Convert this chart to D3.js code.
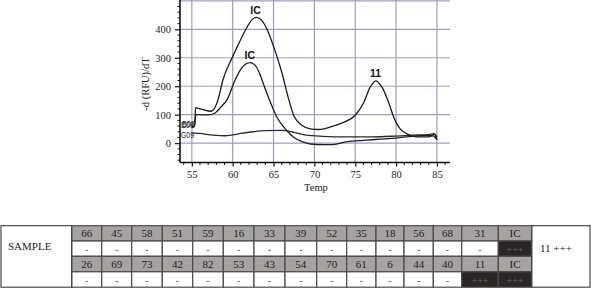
<!DOCTYPE html>
<html>
<head>
<meta charset="utf-8">
<script src="https://cdn.jsdelivr.net/npm/d3@7"></script>
<style>
  body { margin: 0; background: #fff; }
  svg { display: block; }
</style>
</head>
<body>
<svg id="visualisation" width="591" height="288"></svg>
<script>
// melt curves, temp (C) vs -d(RFU)/dT
var tempA = [55.0, 55.35, 55.45, 55.8, 56.5, 57.2, 57.6, 58.2, 58.8, 60.0, 61.0, 61.8, 62.4, 62.9, 63.5, 64.2, 65.0, 66.0, 66.8, 67.5, 68.5, 69.5, 70.5, 71.5, 72.5, 73.5, 75.0, 76.0, 76.8, 77.5, 78.2, 79.0, 79.8, 80.5, 81.2, 82.0, 83.0, 84.0, 84.5, 84.7, 85.0];
var valsA = [60, 62, 125, 122, 117, 112, 116, 152, 222, 304, 365, 410, 435, 442, 433, 400, 340, 250, 160, 95, 62, 50, 48, 53, 62, 72, 98, 140, 195, 219, 200, 150, 85, 50, 35, 25, 22, 22, 28, 32, 12];

var tempB = [55.0, 55.3, 55.5, 56.0, 57.0, 57.8, 58.5, 59.3, 60.3, 61.0, 61.6, 62.1, 62.7, 63.3, 63.8, 64.5, 65.4, 66.5, 67.5, 68.5, 69.5, 71.0, 72.0, 74.0, 76.0, 78.0, 80.0, 82.0, 84.0, 84.6, 85.0];
var valsB = [55, 58, 100, 100, 99, 105, 125, 152, 222, 260, 278, 283, 275, 245, 205, 152, 92, 48, 20, 5, -3, -5, -5, 5, 10, 14, 18, 24, 27, 25, 12];

var tempG = [55.0, 55.3, 56.0, 57.0, 58.0, 59.0, 60.0, 61.0, 62.5, 64.0, 66.0, 67.5, 69.0, 71.0, 74.0, 77.0, 80.0, 82.0, 84.0, 84.6, 85.0];
var valsG = [36, 35, 34, 30, 27, 26, 29, 34, 40, 44, 45, 38, 28, 24, 22, 22, 25, 28, 30, 33, 22];

var xTicks = [55, 60, 65, 70, 75, 80, 85];
var yTicks = [0, 100, 200, 300, 400];
var peakLabels = [{t: 62.8, v: 442, s: 'IC'}, {t: 62.1, v: 283, s: 'IC'}, {t: 77.5, v: 219, s: '11'}];
var wellLabels = [{v: 66, s: 'E08'}, {v: 68, s: 'B08'}, {v: 29, s: 'G09'}];

// table
var sampleRow1 = ['66', '45', '58', '51', '59', '16', '33', '39', '52', '35', '18', '56', '68', '31', 'IC'];
var resultRow1 = ['-', '-', '-', '-', '-', '-', '-', '-', '-', '-', '-', '-', '-', '-', '+++'];
var sampleRow2 = ['26', '69', '73', '42', '82', '53', '43', '54', '70', '61', '6', '44', '40', '11', 'IC'];
var resultRow2 = ['-', '-', '-', '-', '-', '-', '-', '-', '-', '-', '-', '-', '-', '+++', '+++'];
var tableTitle = 'SAMPLE';
var tableResult = '11 +++';

var vis = d3.select('#visualisation');
vis.append('rect').attr('width', 591).attr('height', 288).attr('fill', '#fff');

var MARGINS = {left: 180, right: 450, top: 0, bottom: 162.5};
var xRange = d3.scaleLinear().domain([53.55, 86.6]).range([MARGINS.left, MARGINS.right]);
var yRange = d3.scaleLinear().domain([-68, 503]).range([MARGINS.bottom, MARGINS.top]);

var serif = '"Liberation Serif", "Times New Roman", serif';
var sans = '"Liberation Sans", Arial, sans-serif';

// grid
var grid = vis.append('g').attr('stroke', '#9c9cc9').attr('stroke-width', 1.2);
d3.range(55, 86, 5).forEach(function(t){
    grid.append('line').attr('x1', xRange(t)).attr('x2', xRange(t))
        .attr('y1', yRange(503)).attr('y2', MARGINS.bottom);
});
d3.range(0, 501, 100).forEach(function(v){
    grid.append('line').attr('x1', MARGINS.left).attr('x2', MARGINS.right)
        .attr('y1', yRange(v)).attr('y2', yRange(v));
});

// axes
var xAxis = d3.axisBottom(xRange).tickValues(xTicks).tickSize(4).tickPadding(4).tickFormat(d3.format('d'));
var yAxis = d3.axisLeft(yRange).tickValues(yTicks).tickSize(5).tickPadding(4).tickFormat(d3.format('d'));

var gx = vis.append('g').attr('transform', 'translate(0,' + MARGINS.bottom + ')').call(xAxis);
var gy = vis.append('g').attr('transform', 'translate(' + MARGINS.left + ',0)').call(yAxis);
[gx, gy].forEach(function(g){
    g.select('.domain').attr('stroke', '#111').attr('stroke-width', 1.6);
    g.selectAll('.tick line').attr('stroke', '#111').attr('stroke-width', 1.2);
    g.selectAll('.tick text').attr('font-family', serif).attr('font-size', 10.5).attr('fill', '#222');
});
gx.select('.domain').attr('d', 'M' + MARGINS.left + ',0H' + MARGINS.right);
gy.select('.domain').attr('d', 'M0,' + MARGINS.bottom + 'V0');

// minor ticks
d3.range(54, 87, 1).forEach(function(t){
    if (t % 5 === 0) return;
    vis.append('line').attr('x1', xRange(t)).attr('x2', xRange(t))
        .attr('y1', MARGINS.bottom).attr('y2', MARGINS.bottom + 2.5)
        .attr('stroke', '#111').attr('stroke-width', 1);
});
d3.range(-60, 501, 20).forEach(function(v){
    if (v % 100 === 0) return;
    vis.append('line').attr('x1', MARGINS.left - 2.5).attr('x2', MARGINS.left)
        .attr('y1', yRange(v)).attr('y2', yRange(v))
        .attr('stroke', '#111').attr('stroke-width', 1);
});

vis.append('text').attr('x', 316).attr('y', 191).attr('text-anchor', 'middle')
    .attr('font-family', serif).attr('font-size', 10.5).attr('fill', '#222').text('Temp');
vis.append('text').attr('transform', 'translate(149,84) rotate(-90)').attr('text-anchor', 'middle')
    .attr('font-family', serif).attr('font-size', 10.5).attr('fill', '#222').text('-d (RFU)/dT');

// curves
var lineFunc = d3.line()
    .x(function(d){ return xRange(d.x); })
    .y(function(d){ return yRange(d.y); })
    .curve(d3.curveMonotoneX);

function toPoints(ts, vs){
    var out = [];
    for (let i = 0; i < ts.length; i++) out.push({x: ts[i], y: vs[i]});
    return out;
}

var series = [
    {pts: toPoints(tempG, valsG), color: '#2a2a2a', w: 1.3},
    {pts: toPoints(tempB, valsB), color: '#1e1e1e', w: 1.3},
    {pts: toPoints(tempA, valsA), color: '#1a1a1a', w: 1.3}
];
series.forEach(function(s){
    vis.append('path').attr('d', lineFunc(s.pts))
        .attr('fill', 'none').attr('stroke', s.color).attr('stroke-width', s.w);
});

peakLabels.forEach(function(p){
    vis.append('text').attr('x', xRange(p.t)).attr('y', yRange(p.v) - 3.5)
        .attr('text-anchor', 'middle').attr('font-family', sans).attr('font-weight', 'bold')
        .attr('font-size', 10.5).attr('fill', '#111').text(p.s);
});
// well names sit on top of each other at the left edge, like in the instrument export
wellLabels.forEach(function(p, i){
    vis.append('text').attr('x', 181 + i % 2).attr('y', yRange(p.v) + 3.4)
        .attr('font-family', sans).attr('font-size', 9.5).attr('fill', '#222')
        .attr('textLength', 13).attr('lengthAdjust', 'spacingAndGlyphs').text(p.s);
});

// table
var colEdges = [71.7, 101.7, 131.7, 162.3, 192.7, 223.3, 254, 285, 316.7, 346.7, 376, 404, 433.3, 461.7, 498.3, 531.7];
var rowEdges = [225.7, 241, 256.3, 271.8, 287.2];
var tableLeft = 1, tableRight = 590;

var tbl = vis.append('g').attr('font-family', serif);
var rows = [
    {vals: sampleRow1, head: true},
    {vals: resultRow1, head: false},
    {vals: sampleRow2, head: true},
    {vals: resultRow2, head: false}
];
rows.forEach(function(r, ri){
    r.vals.forEach(function(v, ci){
        var x0 = colEdges[ci], x1 = colEdges[ci + 1];
        var y0 = rowEdges[ri], y1 = rowEdges[ri + 1];
        var dark = v === '+++';
        tbl.append('rect').attr('x', x0).attr('y', y0).attr('width', x1 - x0).attr('height', y1 - y0)
            .attr('fill', r.head ? '#a6a2a2' : (dark ? '#2b2626' : '#fff'))
            .attr('stroke', '#4a4a4a').attr('stroke-width', 1.2);
        tbl.append('text').attr('x', (x0 + x1) / 2).attr('y', (y0 + y1) / 2 + 4)
            .attr('text-anchor', 'middle').attr('font-size', r.head ? 11 : 10)
            .attr('fill', r.head ? '#1e1e1e' : (dark ? '#6e6262' : '#555'))
            .text(v);
    });
});
tbl.append('rect').attr('x', tableLeft).attr('y', rowEdges[0]).attr('width', colEdges[0] - tableLeft)
    .attr('height', rowEdges[4] - rowEdges[0]).attr('fill', 'none').attr('stroke', '#4a4a4a').attr('stroke-width', 1.2);
tbl.append('rect').attr('x', colEdges[15]).attr('y', rowEdges[0]).attr('width', tableRight - colEdges[15])
    .attr('height', rowEdges[4] - rowEdges[0]).attr('fill', 'none').attr('stroke', '#4a4a4a').attr('stroke-width', 1.2);
tbl.append('text').attr('x', 8).attr('y', 250).attr('font-size', 11).attr('fill', '#222').text(tableTitle);
tbl.append('text').attr('x', 540).attr('y', 251.5).attr('font-size', 11).attr('fill', '#222').text(tableResult);
</script>
</body>
</html>
